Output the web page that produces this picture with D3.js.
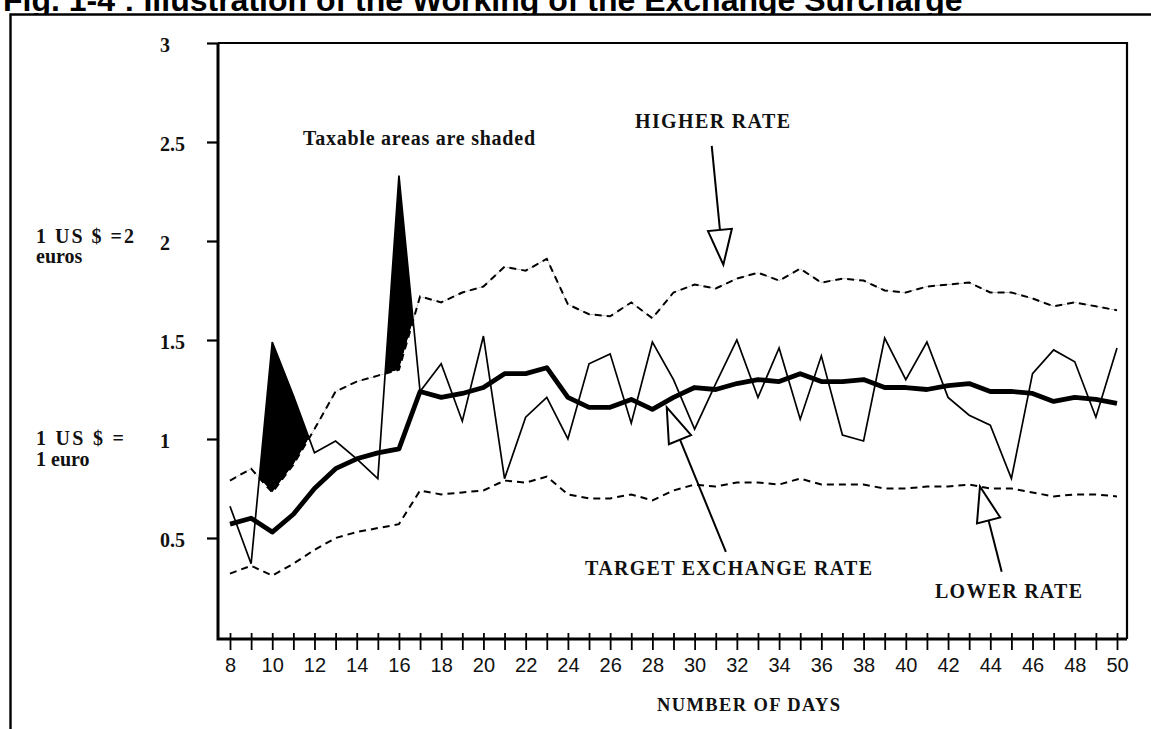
<!DOCTYPE html>
<html>
<head>
<meta charset="utf-8">
<script src="https://cdn.jsdelivr.net/npm/d3@7"></script>
<style>
  html, body { margin: 0; padding: 0; background: #fff; overflow: hidden; }
  .serif { font-family: "Liberation Serif", "Times New Roman", serif; font-weight: bold; fill: #111; }
</style>
</head>
<body>
<div id="chart"></div>
<script>
const days = [8, 9, 10, 11, 12, 13, 14, 15, 16, 17, 18, 19, 20, 21, 22, 23, 24, 25, 26, 27, 28, 29,
  30, 31, 32, 33, 34, 35, 36, 37, 38, 39, 40, 41, 42, 43, 44, 45, 46, 47, 48, 49, 50];

// observed rate (thin line)
const actualRate = [0.66, 0.37, 1.49, 1.22, 0.93, 0.99, 0.90, 0.80, 2.33, 1.24, 1.38, 1.09, 1.52, 0.80,
  1.11, 1.21, 1.00, 1.38, 1.43, 1.08, 1.49, 1.30, 1.05, 1.28, 1.50, 1.21, 1.46, 1.10, 1.42, 1.02,
  0.99, 1.51, 1.30, 1.49, 1.21, 1.12, 1.07, 0.80, 1.33, 1.45, 1.39, 1.11, 1.46];

const targetRate = [0.57, 0.60, 0.53, 0.62, 0.75, 0.85, 0.90, 0.93, 0.95, 1.24, 1.21, 1.23, 1.26, 1.33,
  1.33, 1.36, 1.21, 1.16, 1.16, 1.20, 1.15, 1.21, 1.26, 1.25, 1.28, 1.30, 1.29, 1.33, 1.29, 1.29,
  1.30, 1.26, 1.26, 1.25, 1.27, 1.28, 1.24, 1.24, 1.23, 1.19, 1.21, 1.20, 1.18];

const higherRate = [0.79, 0.85, 0.73, 0.87, 1.05, 1.24, 1.29, 1.32, 1.35, 1.72, 1.69, 1.74, 1.77, 1.87,
  1.85, 1.91, 1.68, 1.63, 1.62, 1.69, 1.61, 1.74, 1.78, 1.76, 1.81, 1.84, 1.80, 1.86, 1.79, 1.81,
  1.80, 1.75, 1.74, 1.77, 1.78, 1.79, 1.74, 1.74, 1.71, 1.67, 1.69, 1.67, 1.65];

const lowerRate = [0.32, 0.36, 0.31, 0.37, 0.44, 0.50, 0.53, 0.55, 0.57, 0.74, 0.72, 0.73, 0.74, 0.79,
  0.78, 0.81, 0.72, 0.70, 0.70, 0.72, 0.69, 0.74, 0.77, 0.76, 0.78, 0.78, 0.77, 0.80, 0.77, 0.77,
  0.77, 0.75, 0.75, 0.76, 0.76, 0.77, 0.75, 0.75, 0.73, 0.71, 0.72, 0.72, 0.71];

const yTicks = [0.5, 1, 1.5, 2, 2.5, 3];

// pointer arrows, in (day, rate) units
const pointers = [
  { tail: [30.81, 2.48], tip: [31.36, 1.88] },
  { tail: [31.48, 0.43], tip: [28.68, 1.16] },
  { tail: [44.54, 0.33], tip: [43.51, 0.76] },
];

const width = 1151, height = 729;
const plot = { left: 218, right: 1127, top: 43, bottom: 639 };

const svg = d3.select('#chart').append('svg')
  .attr('width', width)
  .attr('height', height);

svg.append('text')
  .attr('x', 3).attr('y', 11)
  .style('font', 'bold 32px "Liberation Sans", Arial, sans-serif')
  .text('Fig. 1-4 : Illustration of the Working of the Exchange Surcharge');

// figure panel sits over the title's descenders
svg.append('rect')
  .attr('x', 10).attr('y', 14.5)
  .attr('width', width).attr('height', height)
  .attr('fill', '#fff');

svg.append('path')
  .attr('d', `M10.5,${height} V14.5 H${width}`)
  .attr('fill', 'none').attr('stroke', '#000').attr('stroke-width', 2.4);

const x = d3.scaleLinear().domain([8, 50]).range([230, 1117]);
const y = d3.scaleLinear().domain([0, 3]).range([637, plot.top]);

const px = (d, i) => x(days[i]);

const g = svg.append('g');

// shaded (taxable) areas: between observed and higher rate, only above the higher rate
g.append('clipPath').attr('id', 'above-higher')
  .append('path')
  .datum(higherRate)
  .attr('d', d3.area().x(px).y0(d => y(d)).y1(plot.top));

g.append('path')
  .datum(actualRate)
  .attr('d', d3.area().x(px).y0((d, i) => y(higherRate[i])).y1(d => y(d)))
  .attr('clip-path', 'url(#above-higher)')
  .attr('fill', '#000');

const line = d3.line().x(px).y(d => y(d));

[higherRate, lowerRate].forEach(s => {
  g.append('path').datum(s).attr('d', line)
    .attr('fill', 'none').attr('stroke', '#000')
    .attr('stroke-width', 2).attr('stroke-dasharray', '7,5');
});

g.append('path').datum(actualRate).attr('d', line)
  .attr('fill', 'none').attr('stroke', '#000')
  .attr('stroke-width', 1.7).attr('stroke-linejoin', 'miter');

g.append('path').datum(targetRate).attr('d', line)
  .attr('fill', 'none').attr('stroke', '#000')
  .attr('stroke-width', 4.8).attr('stroke-linejoin', 'round');

// frame
svg.append('path')
  .attr('d', `M${plot.left},${plot.top} H${plot.right} V${plot.bottom}`)
  .attr('fill', 'none').attr('stroke', '#000').attr('stroke-width', 2.2);

const yAxis = svg.append('g')
  .attr('transform', `translate(${plot.left},0)`)
  .call(d3.axisLeft(y).tickValues(yTicks).tickFormat(d => d).tickSize(11).tickSizeOuter(0));

yAxis.select('.domain').remove();
yAxis.selectAll('.tick line').attr('stroke-width', 2.2);
yAxis.selectAll('.tick text')
  .attr('class', 'serif')
  .attr('x', -58).attr('dy', '0.42em')
  .attr('text-anchor', 'start')
  .style('font-size', '20px');

const xAxis = svg.append('g')
  .attr('transform', `translate(0,${plot.bottom})`)
  .call(d3.axisBottom(x).tickValues(days).tickFormat(d => d % 2 === 0 ? d : '').tickSizeOuter(0));

xAxis.select('.domain').remove();
xAxis.selectAll('.tick line').attr('y1', -6).attr('y2', 11).attr('stroke-width', 1.8);
xAxis.selectAll('.tick text')
  .attr('y', 19)
  .style('font', '20px "Liberation Sans", Arial, sans-serif')
  .attr('fill', '#111');

svg.append('path')
  .attr('d', `M${plot.left},${plot.top} V${plot.bottom} H${plot.right}`)
  .attr('fill', 'none').attr('stroke', '#000').attr('stroke-width', 3);

// arrows
const headLen = 35, headHalf = 12;

pointers.forEach(p => {
  const [x0, y0] = [x(p.tail[0]), y(p.tail[1])];
  const [x1, y1] = [x(p.tip[0]), y(p.tip[1])];
  const len = Math.hypot(x1 - x0, y1 - y0);
  const ux = (x1 - x0) / len, uy = (y1 - y0) / len;
  const bx = x1 - ux * headLen, by = y1 - uy * headLen;

  svg.append('line')
    .attr('x1', x0).attr('y1', y0).attr('x2', bx).attr('y2', by)
    .attr('stroke', '#000').attr('stroke-width', 2);

  svg.append('path')
    .attr('d', `M${bx - uy * headHalf},${by + ux * headHalf} L${x1},${y1} L${bx + uy * headHalf},${by - ux * headHalf} Z`)
    .attr('fill', '#fff').attr('stroke', '#000').attr('stroke-width', 2);
});

const labels = [
  { text: 'HIGHER RATE', x: 635, y: 128, size: 20, len: 155 },
  { text: 'Taxable areas are shaded', x: 303, y: 145, size: 20, len: 232 },
  { text: 'TARGET EXCHANGE RATE', x: 585, y: 575, size: 20, len: 287 },
  { text: 'LOWER RATE', x: 935, y: 598, size: 20, len: 147 },
  { text: 'NUMBER OF DAYS', x: 657, y: 711, size: 18.5, len: 183 },
  { text: '1 US $ =2', x: 36, y: 243, size: 20, len: 98 },
  { text: 'euros', x: 36, y: 263, size: 20 },
  { text: '1 US $ =', x: 36, y: 445, size: 20, len: 88 },
  { text: '1 euro', x: 36, y: 466, size: 20 },
];

labels.forEach(l => {
  const t = svg.append('text')
    .attr('class', 'serif')
    .attr('x', l.x).attr('y', l.y)
    .style('font-size', `${l.size}px`)
    .text(l.text);

  if (l.len) {
    t.attr('textLength', l.len).attr('lengthAdjust', 'spacing');
  }
});
</script>
</body>
</html>
